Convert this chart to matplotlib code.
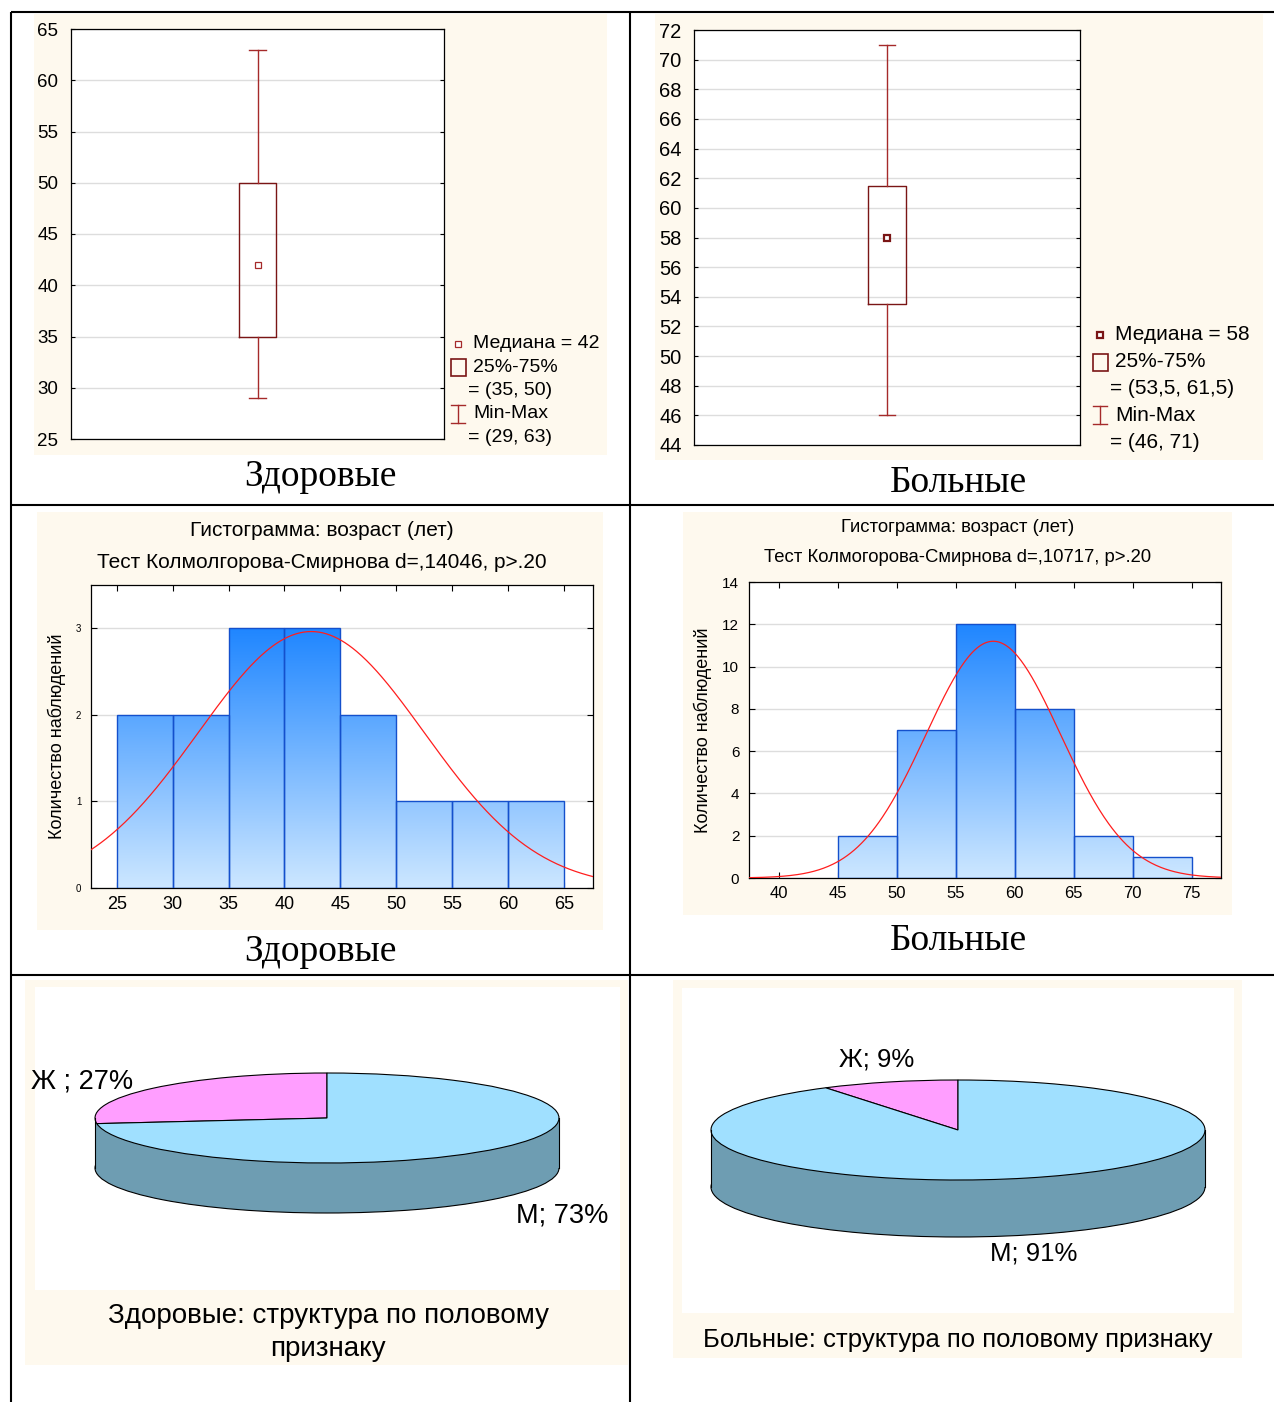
import numpy as np
import matplotlib
matplotlib.use('Agg')
import matplotlib.pyplot as plt
from matplotlib.patches import Rectangle
from matplotlib.colors import LinearSegmentedColormap

plt.rcParams['font.family'] = ['Liberation Sans', 'DejaVu Sans']

W, H = 1274, 1402

# box plots: median, quartiles, min-max
healthy_box = dict(med=42, q1=35, q3=50, whislo=29, whishi=63)
sick_box = dict(med=58, q1=53.5, q3=61.5, whislo=46, whishi=71)

# histograms (left bin edges, counts) + fitted normal (mean, sd)
bin_w = 5
healthy_bins = [25, 30, 35, 40, 45, 50, 55, 60]
healthy_counts = [2, 2, 3, 3, 2, 1, 1, 1]
healthy_fit = (42.4, 10.1)
healthy_ks = 'd=,14046, p>.20'
sick_bins = [45, 50, 55, 60, 65, 70]
sick_counts = [2, 7, 12, 8, 2, 1]
sick_fit = (58.2, 5.7)
sick_ks = 'd=,10717, p>.20'

# sex structure, %
sex_labels = ['Ж', 'М']
healthy_sex = [27, 73]
sick_sex = [9, 91]

CREAM = '#FEF9EE'
DARKRED = '#7A1515'
RED = '#A52A2A'
PINK = '#FF9EFF'
LBLUE = '#A0E0FF'
SIDE = '#6E9DB2'
cmap = LinearSegmentedColormap.from_list('bars', ['#CDE7FF', '#1F86FF'])


def rect(x0, y0, x1, y1):
    return [x0 / W, 1 - y1 / H, (x1 - x0) / W, (y1 - y0) / H]


def num(v):
    return f'{v:g}'.replace('.', ',')


fig = plt.figure(figsize=(W / 100, H / 100), dpi=100)
bg = fig.add_axes([0, 0, 1, 1], zorder=0)
bg.set_xlim(0, W)
bg.set_ylim(H, 0)
bg.axis('off')

# panel backgrounds
for x0, y0, x1, y1 in [(34, 14, 607, 455), (655, 14, 1263, 460), (37, 512, 603, 930),
                       (683, 512, 1232, 915), (25, 980, 628, 1365), (673, 980, 1242, 1358)]:
    bg.add_patch(Rectangle((x0, y0), x1 - x0, y1 - y0, fc=CREAM, ec='none'))
for x0, y0, x1, y1 in [(35, 987, 620, 1290), (682, 988, 1234, 1313)]:
    bg.add_patch(Rectangle((x0, y0), x1 - x0, y1 - y0, fc='white', ec='none'))

# table lines
lk = dict(color='black', lw=1.5, solid_capstyle='butt')
bg.plot([11, W], [12, 12], **lk)
bg.plot([11, W], [505, 505], **lk)
bg.plot([11, W], [975, 975], **lk)
bg.plot([11, 11], [12, H], **lk)
bg.plot([630, 630], [12, H], **lk)


def draw_box(pos, st, ylim, ystep, leg, fs, lfs, filled):
    ax = fig.add_axes(rect(*pos), zorder=2)
    s = dict(st)
    s['mean'] = st['med']
    s['fliers'] = []
    mk = dict(marker='s', ms=4 if filled else 4.5, mfc='white',
              mec=DARKRED if filled else RED, mew=1.6 if filled else 0.9)
    ax.bxp([s], positions=[0.5], widths=0.097, capwidths=0.043, showmeans=True,
           showfliers=False,
           boxprops=dict(color=DARKRED, lw=1), whiskerprops=dict(color=RED, lw=1),
           capprops=dict(color=RED, lw=1), medianprops=dict(lw=0), meanprops=mk)
    ax.set_xlim(0, 1)
    ax.set_ylim(*ylim)
    ax.set_yticks(np.arange(ylim[0], ylim[1] + 0.1, ystep))
    ax.set_xticks([])
    ax.yaxis.grid(True, color='#DDDDDD', lw=1)
    ax.set_axisbelow(True)
    ax.tick_params(axis='y', direction='in', length=3, labelsize=fs, pad=9, right=True)
    for sp in ax.spines.values():
        sp.set_linewidth(0.9)
    # legend
    lx, ly, dy = leg
    bg.plot(lx + 7, ly, ls='none', **mk)
    bg.text(lx + 22, ly, f"Медиана = {num(st['med'])}", fontsize=lfs, va='center')
    bg.add_patch(Rectangle((lx, ly + dy - 8), 15, 17, fc='none', ec=DARKRED, lw=1.2))
    bg.text(lx + 22, ly + dy, '25%-75%', fontsize=lfs, va='center')
    bg.text(lx + 17, ly + 2 * dy, f"= ({num(st['q1'])}, {num(st['q3'])})", fontsize=lfs, va='center')
    wy = ly + 3 * dy
    bg.plot([lx + 7, lx + 7], [wy - 9, wy + 9], color=RED, lw=1)
    bg.plot([lx, lx + 14], [wy - 9, wy - 9], color=RED, lw=1)
    bg.plot([lx, lx + 14], [wy + 9, wy + 9], color=RED, lw=1)
    bg.text(lx + 22, wy, 'Min-Max', fontsize=lfs, va='center')
    bg.text(lx + 17, ly + 4 * dy, f"= ({num(st['whislo'])}, {num(st['whishi'])})", fontsize=lfs, va='center')


draw_box((71, 29, 444, 439), healthy_box, (25, 65), 5, (451, 344, 23.3), 13.5, 14, False)
draw_box((694, 30, 1080, 445), sick_box, (44, 72), 2, (1093, 335, 26.8), 14.5, 15, True)

serif = dict(family=['Liberation Serif', 'DejaVu Serif'], fontsize=27, ha='center', va='center')
bg.text(320, 477, 'Здоровые', **serif)
bg.text(958, 483, 'Больные', **serif)
bg.text(320, 952, 'Здоровые', **serif)
bg.text(958, 941, 'Больные', **serif)


def draw_hist(pos, bins, counts, fit, xlim, ylim, yticks, xticks, fs_x, fs_y, titles, ylab_x):
    ax = fig.add_axes(rect(*pos), zorder=2)
    bars = ax.bar(bins, counts, width=bin_w, align='edge', fc='none', ec='#1450CC',
                  lw=1, zorder=3)
    grad = np.linspace(0, 1, 256).reshape(-1, 1)
    for b in bars:
        im = ax.imshow(grad, cmap=cmap, origin='lower', aspect='auto', zorder=2,
                       extent=[b.get_x(), b.get_x() + b.get_width(), 0, max(counts)])
        im.set_clip_path(b)
    xs = np.linspace(xlim[0], xlim[1], 400)
    mu, sd = fit
    ys = sum(counts) * bin_w * np.exp(-(xs - mu) ** 2 / (2 * sd ** 2)) / (sd * np.sqrt(2 * np.pi))
    ax.plot(xs, ys, color='#FF1E1E', lw=0.9, zorder=4)
    ax.set_xlim(*xlim)
    ax.set_ylim(*ylim)
    ax.set_xticks(xticks)
    ax.set_yticks(yticks)
    ax.yaxis.grid(True, color='#DDDDDD', lw=1)
    ax.set_axisbelow(True)
    ax.tick_params(axis='x', direction='in', length=4, labelsize=fs_x, top=True, pad=6)
    ax.tick_params(axis='y', direction='in', length=4, labelsize=fs_y, right=True, pad=7)
    for sp in ax.spines.values():
        sp.set_linewidth(0.9)
    x0, y0, x1, y1 = pos
    bg.text(titles[0][0], titles[0][1], 'Гистограмма: возраст (лет)', fontsize=titles[2],
            ha='center', va='center')
    bg.text(titles[0][0], titles[1], titles[3], fontsize=titles[2], ha='center', va='center')
    bg.text(ylab_x, (y0 + y1) / 2, 'Количество наблюдений', fontsize=13, rotation=90,
            ha='center', va='center')


draw_hist((91, 585, 593, 888), healthy_bins, healthy_counts, healthy_fit, (22.7, 67.6), (0, 3.5),
          [0, 1, 2, 3], list(range(25, 70, 5)), 13, 7,
          ((322, 530), 562, 15, 'Тест Колмолгорова-Смирнова ' + healthy_ks), 57)
draw_hist((749, 582, 1221, 878), sick_bins, sick_counts, sick_fit, (37.5, 77.5), (0, 14),
          list(range(0, 15, 2)), list(range(40, 80, 5)), 12, 11,
          ((958, 528), 557, 13.3, 'Тест Колмогорова-Смирнова ' + sick_ks), 703)


def draw_pie(area, values, center, a, b, depth):
    ax = fig.add_axes(rect(*area), zorder=2)
    d = depth / b
    ax.pie([sum(values)], colors=[SIDE], center=(0, -d), wedgeprops=dict(ec='black', lw=0.8))
    ax.add_patch(Rectangle((-1, -d), 2, d, fc=SIDE, ec='none'))
    ax.plot([-1, -1], [-d, 0], color='black', lw=0.8)
    ax.plot([1, 1], [-d, 0], color='black', lw=0.8)
    ax.pie(values, colors=[PINK, LBLUE], startangle=90, counterclock=True,
           wedgeprops=dict(ec='black', lw=0.8))
    ax.set_aspect('auto')
    x0, y0, x1, y1 = area
    cx, cy = center
    ax.set_xlim((x0 - cx) / a, (x1 - cx) / a)
    ax.set_ylim((cy - y1) / b, (cy - y0) / b)
    ax.axis('off')


draw_pie((35, 987, 620, 1290), healthy_sex, (327, 1118), 232, 45, 50)
draw_pie((682, 988, 1234, 1313), sick_sex, (958, 1130), 247, 50, 57)

bg.text(82, 1082, f'{sex_labels[0]} ; {healthy_sex[0]}%', fontsize=19.5, ha='center', va='center')
bg.text(562, 1215, f'{sex_labels[1]}; {healthy_sex[1]}%', fontsize=19.5, ha='center', va='center')
bg.text(877, 1060, f'{sex_labels[0]}; {sick_sex[0]}%', fontsize=18.5, ha='center', va='center')
bg.text(1034, 1253, f'{sex_labels[1]}; {sick_sex[1]}%', fontsize=18.5, ha='center', va='center')

bg.text(328, 1316, 'Здоровые: структура по половому', fontsize=20, ha='center', va='center')
bg.text(328, 1349, 'признаку', fontsize=20, ha='center', va='center')
bg.text(958, 1340, 'Больные: структура по половому признаку', fontsize=18.5, ha='center', va='center')

fig.savefig('out.png', dpi=100)
